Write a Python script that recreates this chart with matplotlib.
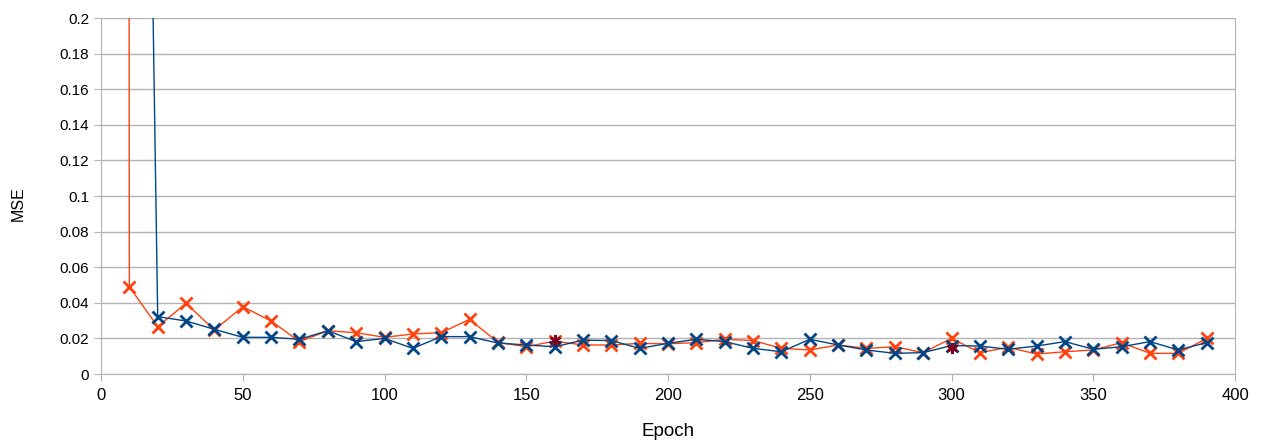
import numpy as np
import matplotlib
matplotlib.use("Agg")
import matplotlib.pyplot as plt

plt.rcParams["font.family"] = ["Liberation Sans", "DejaVu Sans"]

# ── data ─────────────────────────────────────────────────────────
epochs_red = [0, 10, 20, 30, 40, 50, 60, 70, 80, 90, 100, 110, 120, 130, 140,
              150, 160, 170, 180, 190, 200, 210, 220, 230, 240, 250, 260, 270,
              280, 290, 300, 310, 320, 330, 340, 350, 360, 370, 380, 390]
mse_red = [20.0, 0.049, 0.0266, 0.0397, 0.0247, 0.0378, 0.0298, 0.0182, 0.0243,
           0.0232, 0.0206, 0.0225, 0.0232, 0.0307, 0.0178,
           0.0153, 0.0185, 0.0163, 0.0163, 0.0172, 0.0170, 0.0176, 0.0195, 0.0188,
           0.0144, 0.0135, 0.0163, 0.0144, 0.0153, 0.0120, 0.0200, 0.0120, 0.0150,
           0.0112, 0.0125, 0.0135, 0.0176, 0.0116, 0.0116, 0.0200]

epochs_blue = [10, 20, 30, 40, 50, 60, 70, 80, 90, 100, 110, 120, 130, 140,
               150, 160, 170, 180, 190, 200, 210, 220, 230, 240, 250, 260, 270,
               280, 290, 300, 310, 320, 330, 340, 350, 360, 370, 380, 390]
mse_blue = [1.07, 0.0322, 0.0298, 0.0251, 0.0206, 0.0206, 0.0195, 0.0243, 0.0182,
            0.0200, 0.0144, 0.0210, 0.0210, 0.0174,
            0.0163, 0.0153, 0.0190, 0.0188, 0.0144, 0.0172, 0.0195, 0.0182, 0.0144,
            0.0125, 0.0195, 0.0163, 0.0135, 0.0116, 0.0120, 0.0160, 0.0157, 0.0139,
            0.0157, 0.0182, 0.0139, 0.0153, 0.0182, 0.0135, 0.0176]

epochs_star = [160, 300]
mse_star = [0.0190, 0.0148]

ytick_labels = ["0", "0.02", "0.04", "0.06", "0.08", "0.1", "0.12",
                "0.14", "0.16", "0.18", "0.2"]

# ── plot ─────────────────────────────────────────────────────────
W, H = 1263, 442
fig = plt.figure(figsize=(W / 100, H / 100), dpi=100)
ax = fig.add_axes([101 / W, 1 - 374 / H, (1235 - 101) / W, (374 - 18) / H])

ax.plot(epochs_red, mse_red, color="#ff420e", lw=1.0, marker="x",
        markersize=9, markeredgewidth=2, zorder=3)
ax.plot(epochs_blue, mse_blue, color="#004586", lw=1.0, marker="x",
        markersize=9, markeredgewidth=2, zorder=4)
ax.plot(epochs_star, mse_star, ls="none", color="#7e0021", marker=(6, 2, 0),
        markersize=8, markeredgewidth=1.8, zorder=5)

ax.set_xlim(0, 400)
ax.set_ylim(0, 0.2)
ax.set_xticks(np.arange(0, 401, 50))
ax.set_yticks(np.arange(0, 0.201, 0.02))
ax.set_yticklabels(ytick_labels)

ax.grid(axis="y", color="#b3b3b3", lw=1.0)
ax.set_axisbelow(True)
ax.spines["top"].set_visible(False)
for side in ["left", "bottom", "right"]:
    ax.spines[side].set_color("#b3b3b3")
ax.tick_params(axis="both", colors="#b3b3b3", length=5, labelcolor="#000000")
ax.tick_params(axis="y", labelsize=11)
ax.tick_params(axis="x", labelsize=12, pad=5)

ax.set_xlabel("Epoch", fontsize=13.5, va="center")
ax.xaxis.set_label_coords(0.5, -(431 - 374) / 356)
ax.set_ylabel("MSE", fontsize=11.5, va="center")
ax.yaxis.set_label_coords((18 - 101) / 1134, 1 - (204 - 18) / 356)

plt.savefig("out.png", dpi=100)
